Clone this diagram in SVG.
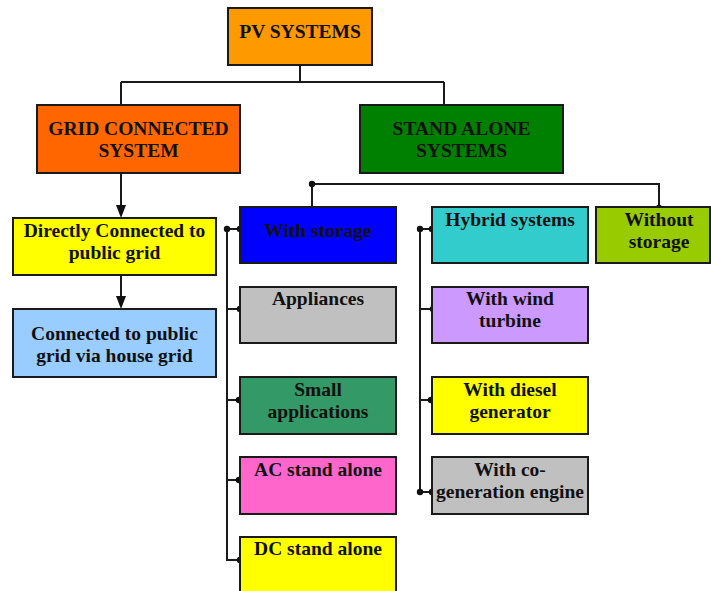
<svg xmlns="http://www.w3.org/2000/svg" width="711" height="591" viewBox="0 0 711 591">
<defs>
<style>
.box{stroke:#1a1a1a;stroke-width:2}
.t{font-family:"Liberation Serif","Times New Roman",serif;font-weight:bold;font-size:19.5px;fill:#111;text-anchor:middle}
.ln{stroke:#1a1a1a;stroke-width:2;fill:none}
.dot{fill:#111}
</style>
<marker id="arr" markerWidth="10" markerHeight="12" refX="5" refY="12" orient="auto" markerUnits="userSpaceOnUse" viewBox="0 0 10 12">
<path d="M0,0 L10,0 L5,12 Z" fill="#111" transform="rotate(-90 5 6)"/>
</marker>
</defs>
<rect width="711" height="591" fill="#fff"/>
<g id="connectors">
<path class="ln" d="M300,65 V82 M121,82 H444 M121,82 V105 M444,82 V105"/>
<line class="ln" x1="121" y1="173" x2="121" y2="206"/>
<path d="M116,205 L126,205 L121,218 Z" fill="#111"/>
<line class="ln" x1="121" y1="275" x2="121" y2="297"/>
<path d="M116,296 L126,296 L121,309 Z" fill="#111"/>
<path class="ln" d="M312,184 H659 V208 M312,184 V207"/>
<circle class="dot" cx="312" cy="184" r="3.2"/>
<circle class="dot" cx="659" cy="208" r="3.2"/>
<path class="ln" d="M227,229 V560 H240 M227,229 H240 M227,309 H240 M227,400 H240 M227,480 H240"/>
<circle class="dot" cx="227" cy="229" r="3.2"/>
<circle class="dot" cx="240" cy="229" r="3.2"/>
<circle class="dot" cx="240" cy="309" r="3.2"/>
<circle class="dot" cx="239" cy="400" r="3.2"/>
<circle class="dot" cx="239" cy="480" r="3.2"/>
<circle class="dot" cx="240" cy="560" r="3.2"/>
<path class="ln" d="M420,229 V492 H432 M420,229 H432 M420,309 H432 M420,400 H432"/>
<circle class="dot" cx="420" cy="229" r="3.2"/>
<circle class="dot" cx="432" cy="229" r="3.2"/>
<circle class="dot" cx="433" cy="309" r="3.2"/>
<circle class="dot" cx="431" cy="400" r="3.2"/>
<circle class="dot" cx="420" cy="492" r="3.2"/>
<circle class="dot" cx="432" cy="492" r="3.2"/>
</g>
<g id="pv-systems">
<rect class="box" x="228" y="8" width="144" height="57" fill="#FF9900"/>
<text class="t" x="300" y="38">PV SYSTEMS</text>
</g>
<g id="grid-connected">
<rect class="box" x="37" y="105" width="203" height="68" fill="#FF6600"/>
<text class="t" x="138.5" y="135">GRID CONNECTED</text>
<text class="t" x="138.5" y="157">SYSTEM</text>
</g>
<g id="stand-alone">
<rect class="box" x="360" y="105" width="203" height="68" fill="#008000"/>
<text class="t" x="461.5" y="135">STAND ALONE</text>
<text class="t" x="461.5" y="157">SYSTEMS</text>
</g>
<g id="directly-connected">
<rect class="box" x="13" y="218" width="203" height="57" fill="#FFFF00"/>
<text class="t" x="114.5" y="237">Directly Connected to</text>
<text class="t" x="114.5" y="259">public grid</text>
</g>
<g id="house-grid">
<rect class="box" x="13" y="309" width="203" height="68" fill="#99CCFF"/>
<text class="t" x="114.5" y="340">Connected to public</text>
<text class="t" x="114.5" y="362">grid via house grid</text>
</g>
<g id="with-storage">
<rect class="box" x="240" y="207" width="156" height="56" fill="#0000FF"/>
<text class="t" x="318" y="237">With storage</text>
</g>
<g id="appliances">
<rect class="box" x="240" y="287" width="156" height="56" fill="#C0C0C0"/>
<text class="t" x="318" y="305">Appliances</text>
</g>
<g id="small-applications">
<rect class="box" x="240" y="377" width="156" height="57" fill="#339966"/>
<text class="t" x="318" y="396">Small</text>
<text class="t" x="318" y="418">applications</text>
</g>
<g id="ac-stand-alone">
<rect class="box" x="240" y="457" width="156" height="57" fill="#FF66CC"/>
<text class="t" x="318" y="476">AC stand alone</text>
</g>
<g id="dc-stand-alone">
<rect class="box" x="240" y="537" width="156" height="60" fill="#FFFF00"/>
<text class="t" x="318" y="555">DC stand alone</text>
</g>
<g id="hybrid-systems">
<rect class="box" x="432" y="207" width="156" height="56" fill="#33CCCC"/>
<text class="t" x="510" y="226">Hybrid systems</text>
</g>
<g id="wind-turbine">
<rect class="box" x="432" y="287" width="156" height="56" fill="#CC99FF"/>
<text class="t" x="510" y="305">With wind</text>
<text class="t" x="510" y="327">turbine</text>
</g>
<g id="diesel-generator">
<rect class="box" x="432" y="377" width="156" height="57" fill="#FFFF00"/>
<text class="t" x="510" y="396">With diesel</text>
<text class="t" x="510" y="418">generator</text>
</g>
<g id="cogeneration">
<rect class="box" x="432" y="457" width="156" height="57" fill="#C0C0C0"/>
<text class="t" x="510" y="476">With co-</text>
<text class="t" x="510" y="498">generation engine</text>
</g>
<g id="without-storage">
<rect class="box" x="596" y="207" width="114" height="56" fill="#99CC00"/>
<text class="t" x="659" y="226">Without</text>
<text class="t" x="659" y="248">storage</text>
</g>
</svg>
